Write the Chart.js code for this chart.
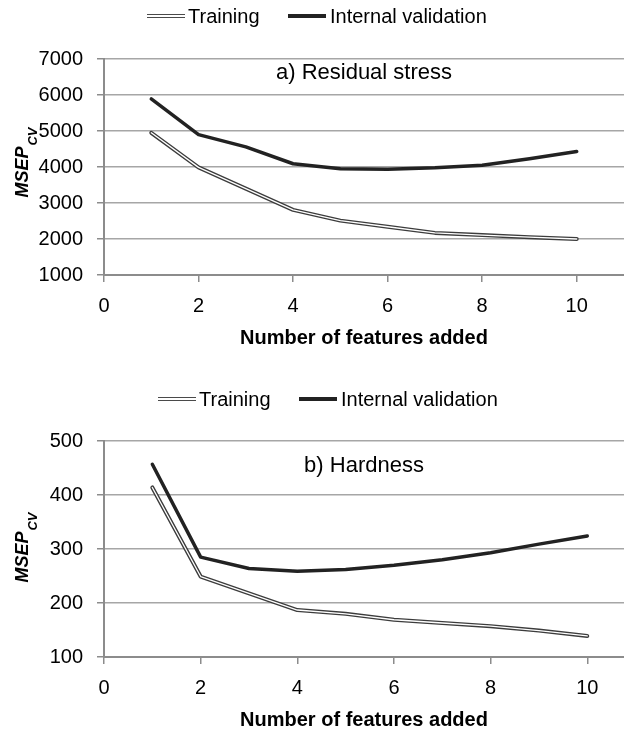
<!DOCTYPE html>
<html>
<head>
<meta charset="utf-8">
<script src="https://cdn.jsdelivr.net/npm/chart.js@4"></script>
<style>
  body { margin: 0; background: #fff; }
  #page { position: relative; width: 624px; height: 732px; overflow: hidden; font-family: "Liberation Sans", Arial, sans-serif; }
  .box { position: absolute; left: 0; width: 624px; }
  .sw { position: absolute; width: 38px; }
  .sw.train { height: 2px; background: #fff; border-top: 1px solid #4a4a4a; border-bottom: 1px solid #4a4a4a; }
  .sw.valid { height: 4px; background: #222; }
  .lt { position: absolute; font-size: 20px; line-height: 20px; color: #000; white-space: nowrap; }
</style>
</head>
<body>
<div id="page">
  <div class="box" style="top:0;height:360px"><canvas id="stressChart"></canvas></div>
  <div class="box" style="top:370px;height:362px"><canvas id="hardnessChart"></canvas></div>
</div>
<script>
const featuresAdded = [1, 2, 3, 4, 5, 6, 7, 8, 9, 10];
const seriesNames = ['Training', 'Internal validation'];

const stressTraining = [4950, 3990, 3400, 2810, 2510, 2340, 2170, 2110, 2050, 2000];
const stressValidation = [5890, 4900, 4560, 4090, 3950, 3940, 3980, 4050, 4230, 4430];

const hardnessTraining = [414, 249, 218, 187, 180, 169, 163, 157, 149, 139];
const hardnessValidation = [457, 285, 264, 259, 262, 270, 280, 293, 309, 324];

const xTicks = [0, 2, 4, 6, 8, 10];
const stressTicks = [1000, 2000, 3000, 4000, 5000, 6000, 7000];
const hardnessTicks = [100, 200, 300, 400, 500];

const FONT = '"Liberation Sans", Arial, sans-serif';

// caption inside the plot and the rotated MSEP_CV axis name
const panelText = {
  id: 'panelText',
  afterDraw(chart, args, opts) {
    const {ctx, chartArea: a} = chart;
    ctx.save();
    ctx.fillStyle = '#000';
    ctx.font = '22px ' + FONT;
    ctx.textAlign = 'center';
    ctx.textBaseline = 'middle';
    ctx.fillText(opts.caption, (a.left + a.right) / 2, a.top + opts.captionOffset);

    ctx.translate(28, (a.top + a.bottom) / 2 + opts.nameShift);
    ctx.rotate(-Math.PI / 2);
    ctx.textAlign = 'left';
    ctx.textBaseline = 'alphabetic';
    const big = 'italic bold 18px ' + FONT, small = 'italic bold 13px ' + FONT;
    ctx.font = big;
    const w1 = ctx.measureText('MSEP').width;
    ctx.font = small;
    const w2 = ctx.measureText('CV').width;
    const x0 = -(w1 + w2) / 2;
    ctx.font = big;
    ctx.fillText('MSEP', x0, 0);
    ctx.font = small;
    ctx.fillText('CV', x0 + w1 + 1, 9);
    ctx.restore();
  }
};

function addLegend(top, shift) {
  const page = document.getElementById('page');
  const items = [
    {cls: 'train', sw: 147, txt: 188, name: seriesNames[0]},
    {cls: 'valid', sw: 288, txt: 330, name: seriesNames[1]}
  ];
  items.forEach(it => {
    const s = document.createElement('div');
    s.className = 'sw ' + it.cls;
    s.style.left = (it.sw + shift) + 'px';
    s.style.top = (top - 2) + 'px';
    page.appendChild(s);
    const t = document.createElement('div');
    t.className = 'lt';
    t.textContent = it.name;
    t.style.left = (it.txt + shift) + 'px';
    t.style.top = (top - 10) + 'px';
    page.appendChild(t);
  });
}

function makeChart(id, training, validation, yTicks, o) {
  const pts = arr => featuresAdded.map((f, i) => ({x: f, y: arr[i]}));
  return new Chart(document.getElementById(id), {
    type: 'line',
    data: {
      datasets: [
        {label: seriesNames[1], data: pts(validation), borderColor: '#222', borderWidth: 3.5, order: 0},
        {label: seriesNames[0], data: pts(training), borderColor: '#fff', borderWidth: 1.3, order: 1},
        {label: seriesNames[0], data: pts(training), borderColor: '#3c3c3c', borderWidth: 4, order: 2}
      ]
    },
    options: {
      responsive: true,
      maintainAspectRatio: false,
      animation: false,
      layout: {padding: {top: o.top, left: 0, right: 0, bottom: 0}},
      elements: {
        point: {radius: 0},
        line: {tension: 0, borderJoinStyle: 'round', borderCapStyle: 'round'}
      },
      plugins: {
        legend: {display: false},
        tooltip: {enabled: false},
        panelText: {caption: o.caption, captionOffset: o.captionOffset, nameShift: o.nameShift}
      },
      scales: {
        x: {
          type: 'linear',
          min: 0,
          max: o.xMax,
          afterBuildTicks: s => { s.ticks = xTicks.map(v => ({value: v})); },
          afterFit: s => { s.height = o.xHeight; },
          grid: {drawOnChartArea: false, drawTicks: true, tickLength: 7, color: '#8c8c8c', lineWidth: 1.5},
          border: {color: '#8c8c8c', width: 2},
          ticks: {font: {family: FONT, size: 20}, color: '#000', padding: 12, maxRotation: 0, autoSkip: false,
                  callback: v => String(v)},
          title: {
            display: true,
            text: 'Number of features added',
            font: {family: FONT, size: 20, weight: 'bold'},
            color: '#000',
            padding: {top: 0, bottom: o.titlePad}
          }
        },
        y: {
          min: yTicks[0],
          max: yTicks[yTicks.length - 1],
          afterBuildTicks: s => { s.ticks = yTicks.map(v => ({value: v})); },
          afterFit: s => { s.width = 104; },
          grid: {color: '#a6a6a6', lineWidth: 1.5, tickLength: 7, tickColor: '#8c8c8c'},
          border: {color: '#8c8c8c', width: 2},
          ticks: {font: {family: FONT, size: 20}, color: '#000', padding: 14, callback: v => String(v)}
        }
      }
    },
    plugins: [panelText]
  });
}

addLegend(16, 0);
addLegend(399, 11);

makeChart('stressChart', stressTraining, stressValidation, stressTicks, {
  top: 59, xMax: 11, xHeight: 85, titlePad: 10,
  caption: 'a) Residual stress', captionOffset: 14, nameShift: -4
});

makeChart('hardnessChart', hardnessTraining, hardnessValidation, hardnessTicks, {
  top: 71, xMax: 10.76, xHeight: 75, titlePad: 0,
  caption: 'b) Hardness', captionOffset: 25, nameShift: -1
});
</script>
</body>
</html>
